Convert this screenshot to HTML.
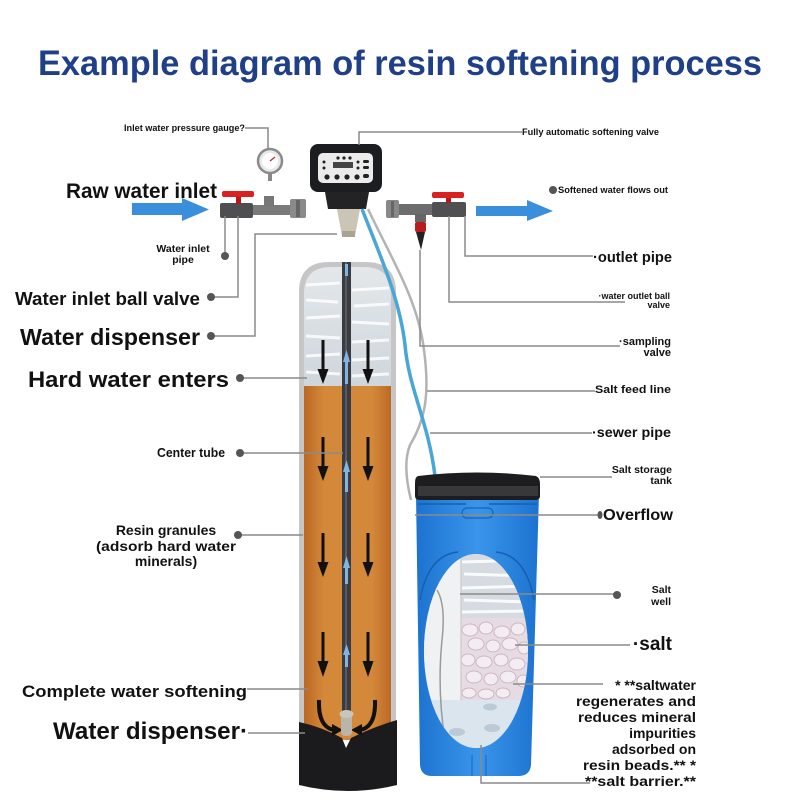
<!DOCTYPE html>
<html><head><meta charset="utf-8"><style>
html,body{margin:0;padding:0;background:#fff;}
svg{display:block;}
text{font-family:"Liberation Sans",sans-serif;font-weight:bold;fill:#111;}
</style></head><body>
<svg width="800" height="800" viewBox="0 0 800 800" xmlns="http://www.w3.org/2000/svg">
<defs>
<linearGradient id="resin" x1="0" x2="1" y1="0" y2="0">
 <stop offset="0" stop-color="#b5621f"/>
 <stop offset="0.25" stop-color="#d4883a"/>
 <stop offset="0.75" stop-color="#d4883a"/>
 <stop offset="1" stop-color="#b5621f"/>
</linearGradient>
<linearGradient id="water" x1="0" x2="0" y1="0" y2="1">
 <stop offset="0" stop-color="#e4e8eb"/>
 <stop offset="1" stop-color="#cfd6dc"/>
</linearGradient>
<linearGradient id="blueTank" x1="0" x2="1" y1="0" y2="0">
 <stop offset="0" stop-color="#1c73d0"/>
 <stop offset="0.5" stop-color="#3a95ea"/>
 <stop offset="1" stop-color="#1c73d0"/>
</linearGradient>
<clipPath id="tankIn"><path d="M304,740 L304,294 Q304,267 331,267 L364,267 Q391,267 391,294 L391,740 Z"/></clipPath>
<clipPath id="win"><ellipse cx="476" cy="651" rx="52" ry="97"/></clipPath>
</defs>

<!-- Title -->
<text x="38" y="75" font-size="35" textLength="724" lengthAdjust="spacingAndGlyphs" style="fill:#1f4088">Example diagram of resin softening process</text>

<!-- ===== MAIN TANK ===== -->
<path d="M299,740 L299,292 Q299,262 329,262 L366,262 Q396,262 396,292 L396,740 Z" fill="#c6c6c6"/>
<g clip-path="url(#tankIn)">
 <rect x="300" y="262" width="96" height="124" fill="url(#water)"/>
 <path d="M306,285 L340,283 M352,290 L389,288 M306,300 L338,302 M354,306 L389,304 M306,318 L340,316 M352,322 L389,324 M306,336 L340,338 M352,342 L389,340 M306,356 L340,354 M352,360 L389,358 M306,372 L340,374 M352,376 L389,374" stroke="#ffffff" stroke-width="3" opacity="0.8"/>
 <rect x="300" y="386" width="96" height="360" fill="url(#resin)"/>
</g>
<!-- base -->
<path d="M299,722 Q322,727 342,738 L346,748 L351,738 Q373,727 397,720 L397,785 Q348,797 299,785 Z" fill="#1b1b1d"/>
<!-- center tube -->
<rect x="342" y="262" width="9" height="455" fill="#3a3c41"/>
<rect x="345" y="262" width="2" height="455" fill="#565b63"/>
<!-- blue up arrows in tube -->
<g fill="#7fb5e5">
 <rect x="345" y="360" width="3" height="24"/><polygon points="343,362 350,362 346.5,350"/>
 <rect x="345" y="470" width="3" height="22"/><polygon points="343,472 350,472 346.5,460"/>
 <rect x="345" y="566" width="3" height="18"/><polygon points="343,568 350,568 346.5,556"/>
 <rect x="345" y="653" width="3" height="14"/><polygon points="343,655 350,655 346.5,644"/>
 <rect x="345" y="264" width="3" height="12"/>
</g>
<!-- black down arrows -->
<g fill="#111">
 <rect x="321.5" y="340" width="3" height="31"/><polygon points="317.5,369 328.5,369 323,384"/>
 <rect x="366.5" y="340" width="3" height="31"/><polygon points="362.5,369 373.5,369 368,384"/>
 <rect x="321.5" y="437" width="3" height="31"/><polygon points="317.5,466 328.5,466 323,481"/>
 <rect x="366.5" y="437" width="3" height="31"/><polygon points="362.5,466 373.5,466 368,481"/>
 <rect x="321.5" y="533" width="3" height="31"/><polygon points="317.5,562 328.5,562 323,577"/>
 <rect x="366.5" y="533" width="3" height="31"/><polygon points="362.5,562 373.5,562 368,577"/>
 <rect x="321.5" y="632" width="3" height="31"/><polygon points="317.5,661 328.5,661 323,677"/>
 <rect x="366.5" y="632" width="3" height="31"/><polygon points="362.5,661 373.5,661 368,677"/>
</g>
<path d="M319,700 Q318,727 334,730" stroke="#111" stroke-width="4" fill="none"/>
<polygon points="332,724 343,730 332,736" fill="#111"/>
<path d="M375,700 Q376,727 360,730" stroke="#111" stroke-width="4" fill="none"/>
<polygon points="362,724 351,730 362,736" fill="#111"/>
<!-- distributor -->
<rect x="341" y="712" width="11" height="24" rx="4" fill="#b9b5aa"/>
<ellipse cx="346.5" cy="714" rx="7" ry="4" fill="#c9c5ba"/>

<!-- ===== CONTROL VALVE ===== -->
<rect x="310" y="144" width="72" height="48" rx="8" fill="#1c1d20"/>
<rect x="318" y="153" width="55" height="30" rx="5" fill="#ebebec"/>
<g fill="#222">
 <circle cx="338" cy="158" r="1.6"/><circle cx="344" cy="158" r="1.6"/><circle cx="350" cy="158" r="1.6"/>
 <circle cx="324" cy="162" r="1.5"/><circle cx="324" cy="168" r="1.5"/>
 <circle cx="358" cy="162" r="1.5"/><circle cx="358" cy="168" r="1.5"/>
 <rect x="363" y="160" width="6" height="3" rx="1.5"/><rect x="363" y="166" width="6" height="3" rx="1.5"/>
 <rect x="333" y="162" width="20" height="6" fill="#444"/>
 <circle cx="327" cy="177" r="2.6"/><circle cx="337" cy="177" r="2.6"/><circle cx="347" cy="177" r="2.6"/><circle cx="357" cy="177" r="2.6"/>
 <rect x="363" y="174" width="6" height="4" rx="2"/>
</g>
<path d="M325,192 L369,192 L366,209 L328,209 Z" fill="#232325"/>
<polygon points="337,209 360,209 355,236 342,236" fill="#cbc5b6"/>
<rect x="342" y="231" width="13" height="6" fill="#a9a393"/>

<!-- gauge -->
<rect x="268" y="171" width="4" height="10" fill="#888"/>
<circle cx="270" cy="161" r="12" fill="#e8e8e8" stroke="#8a8a8a" stroke-width="2.5"/>
<circle cx="270" cy="161" r="8" fill="#fff"/>
<line x1="270" y1="161" x2="275" y2="157" stroke="#c02020" stroke-width="1.2"/>

<!-- inlet pipe -->
<rect x="253" y="205" width="38" height="10" fill="#7a7a7a"/>
<rect x="264" y="196" width="10" height="10" fill="#777"/>
<rect x="290" y="199" width="16" height="19" rx="2" fill="#8a8a8a"/>
<rect x="296" y="200" width="4" height="17" fill="#666"/>
<rect x="220" y="203" width="33" height="15" rx="2" fill="#4f4f52"/>
<rect x="236" y="196" width="5" height="8" fill="#b81818"/>
<rect x="222" y="191" width="32" height="6" rx="2" fill="#d82222"/>

<!-- outlet pipe -->
<rect x="386" y="200" width="13" height="18" rx="2" fill="#888"/>
<rect x="391" y="201" width="3" height="16" fill="#666"/>
<rect x="399" y="204" width="34" height="11" fill="#6d6d6d"/>
<rect x="432" y="202" width="34" height="15" rx="2" fill="#505053"/>
<rect x="446" y="196" width="5" height="7" fill="#b81818"/>
<rect x="432" y="192" width="32" height="6" rx="2" fill="#d82222"/>
<rect x="415" y="214" width="11" height="8" fill="#666"/>
<rect x="415" y="222" width="11" height="10" rx="2" fill="#b81c1c"/>
<polygon points="416,232 425,232 421,250" fill="#222"/>

<!-- hoses -->
<path d="M368,209 C392,260 418,300 424,350 C430,395 425,420 410,445 C404,460 406,480 411,500" stroke="#b3b3b3" stroke-width="2.5" fill="none"/>
<path d="M362,209 C380,255 400,300 405,345 C409,390 428,420 435,476" stroke="#49a6d6" stroke-width="3.5" fill="none"/>

<!-- blue arrows -->
<polygon points="132,203 182,203 182,198 209,209.5 182,221 182,215 132,215" fill="#3a8fdc"/>
<polygon points="476,206 527,206 527,200 553,211 527,221 527,216 476,216" fill="#3a8fdc"/>

<!-- ===== SALT TANK ===== -->
<path d="M416,494 L539,494 L531,765 Q530,776 518,776 L432,776 Q421,776 420,765 Z" fill="url(#blueTank)"/>
<path d="M418,476 Q477,469 536,476 Q540,478 540,484 L540,497 Q539,500 535,500 L420,500 Q415,500 415,496 L415,483 Q415,477 418,476 Z" fill="#1d1d1f"/>
<rect x="418" y="486" width="120" height="10" fill="#38383b"/>
<path d="M418,504 L466,504 M489,504 L537,504" stroke="#1560b0" stroke-width="1.5"/>
<rect x="462" y="508" width="31" height="10" rx="5" fill="none" stroke="#1764b8" stroke-width="1.3"/>
<path d="M420,600 Q428,555 458,552 M496,552 Q526,555 534,600" stroke="#175fb0" stroke-width="1.5" fill="none"/>
<path d="M472,755 L472,776 M486,755 L486,776" stroke="#1a66b8" stroke-width="1"/>
<g clip-path="url(#win)">
 <rect x="420" y="550" width="115" height="205" fill="#e6eaed"/>
 <rect x="420" y="550" width="42" height="205" fill="#f0f1f2"/>
 <rect x="461" y="550" width="70" height="70" fill="#d5dbe0"/>
 <path d="M462,562 L530,560 M464,574 L530,576 M462,588 L530,586 M464,600 L530,602 M462,612 L530,611" stroke="#fff" stroke-width="3" opacity="0.85"/>
 <rect x="461" y="618" width="70" height="84" fill="#e7dbe3"/>
 <g fill="#f3ecf0" stroke="#cdb6c5" stroke-width="1">
  <ellipse cx="470" cy="630" rx="8" ry="6"/><ellipse cx="486" cy="628" rx="7" ry="6"/><ellipse cx="502" cy="632" rx="8" ry="6"/><ellipse cx="518" cy="629" rx="7" ry="6"/>
  <ellipse cx="476" cy="644" rx="8" ry="6"/><ellipse cx="493" cy="646" rx="7" ry="6"/><ellipse cx="510" cy="644" rx="8" ry="6"/><ellipse cx="524" cy="648" rx="6" ry="6"/>
  <ellipse cx="468" cy="660" rx="7" ry="6"/><ellipse cx="484" cy="662" rx="8" ry="6"/><ellipse cx="501" cy="660" rx="7" ry="6"/><ellipse cx="517" cy="664" rx="8" ry="6"/>
  <ellipse cx="474" cy="677" rx="8" ry="6"/><ellipse cx="491" cy="679" rx="7" ry="6"/><ellipse cx="508" cy="677" rx="8" ry="6"/><ellipse cx="523" cy="681" rx="6" ry="6"/>
  <ellipse cx="469" cy="693" rx="7" ry="5"/><ellipse cx="486" cy="694" rx="8" ry="5"/><ellipse cx="503" cy="693" rx="7" ry="5"/>
 </g>
 <rect x="420" y="700" width="115" height="55" fill="#dbe5ee"/>
 <g fill="#bccad6">
  <ellipse cx="490" cy="707" rx="7" ry="3.5"/><ellipse cx="457" cy="732" rx="8" ry="4"/><ellipse cx="492" cy="728" rx="8" ry="4"/>
 </g>
 <line x1="461" y1="550" x2="461" y2="700" stroke="#d0d0d0" stroke-width="1.5"/>
 <path d="M437,590 Q446,605 442,640 Q437,690 445,740" stroke="#9a9a9a" stroke-width="1.5" fill="none"/>
</g>

<!-- ===== LEADER LINES ===== -->
<g stroke="#8a8a8a" stroke-width="1.5" fill="none">
 <path d="M245,128 L268,128 L268,149"/>
 <path d="M225,256 L225,216"/>
 <path d="M211,297 L238,297 L238,216"/>
 <path d="M211,336 L255,336 L255,234 L337,234"/>
 <path d="M240,378 L307,378"/>
 <path d="M240,453 L343,453"/>
 <path d="M238,535 L303,535"/>
 <path d="M247,689 L308,689"/>
 <path d="M248,733 L305,733"/>
 <path d="M359,145 L359,132 L522,132"/>
 <path d="M465,216 L465,256 L593,256"/>
 <path d="M449,216 L449,302 L625,302"/>
 <path d="M420,250 L420,346 L620,346"/>
 <path d="M427,391 L595,391"/>
 <path d="M430,433 L592,433"/>
 <path d="M540,477 L612,477"/>
 <path d="M415,515 L600,515"/>
 <path d="M460,594 L617,594"/>
 <path d="M515,645 L630,645"/>
 <path d="M513,684 L603,684"/>
 <path d="M481,745 L481,783 L590,783"/>
</g>
<g fill="#555">
 <circle cx="225" cy="256" r="4"/>
 <circle cx="211" cy="297" r="4"/>
 <circle cx="211" cy="336" r="4"/>
 <circle cx="240" cy="378" r="4"/>
 <circle cx="240" cy="453" r="4"/>
 <circle cx="238" cy="535" r="4"/>
 <circle cx="553" cy="190" r="4"/>
 <circle cx="617" cy="595" r="4"/>
 <ellipse cx="600" cy="515" rx="2.5" ry="4"/>
</g>

<!-- ===== LEFT LABELS ===== -->
<text x="124" y="131" font-size="9" textLength="121" lengthAdjust="spacingAndGlyphs">Inlet water pressure gauge?</text>
<text x="66" y="198" font-size="21" textLength="151" lengthAdjust="spacingAndGlyphs">Raw water inlet</text>
<text x="183" y="252" font-size="10.5" text-anchor="middle">Water inlet</text>
<text x="183" y="263" font-size="10.5" text-anchor="middle">pipe</text>
<text x="15" y="305" font-size="18.5" textLength="185" lengthAdjust="spacingAndGlyphs">Water inlet ball valve</text>
<text x="20" y="345" font-size="23" textLength="180" lengthAdjust="spacingAndGlyphs">Water dispenser</text>
<text x="28" y="387" font-size="22.5" textLength="201" lengthAdjust="spacingAndGlyphs">Hard water enters</text>
<text x="157" y="457" font-size="12.5" textLength="68" lengthAdjust="spacingAndGlyphs">Center tube</text>
<text x="166" y="535" font-size="14" text-anchor="middle">Resin granules</text>
<text x="166" y="551" font-size="14" text-anchor="middle" textLength="140" lengthAdjust="spacingAndGlyphs">(adsorb hard water</text>
<text x="166" y="566" font-size="14" text-anchor="middle">minerals)</text>
<text x="22" y="697" font-size="17" textLength="225" lengthAdjust="spacingAndGlyphs">Complete water softening</text>
<text x="53" y="739" font-size="24" textLength="195" lengthAdjust="spacingAndGlyphs">Water dispenser·</text>

<!-- ===== RIGHT LABELS ===== -->
<text x="522" y="135" font-size="9" textLength="137" lengthAdjust="spacingAndGlyphs">Fully automatic softening valve</text>
<text x="558" y="193" font-size="9.5" textLength="110" lengthAdjust="spacingAndGlyphs">Softened water flows out</text>
<text x="672" y="262" font-size="15" text-anchor="end" textLength="79" lengthAdjust="spacingAndGlyphs">·outlet pipe</text>
<text x="670" y="299" font-size="9" text-anchor="end">·water outlet ball</text>
<text x="670" y="308" font-size="9" text-anchor="end">valve</text>
<text x="671" y="345" font-size="11" text-anchor="end">·sampling</text>
<text x="671" y="356" font-size="11" text-anchor="end">valve</text>
<text x="671" y="393" font-size="11" text-anchor="end" textLength="76" lengthAdjust="spacingAndGlyphs">Salt feed line</text>
<text x="671" y="437" font-size="14" text-anchor="end" textLength="79" lengthAdjust="spacingAndGlyphs">·sewer pipe</text>
<text x="672" y="473" font-size="10.5" text-anchor="end">Salt storage</text>
<text x="672" y="484" font-size="10.5" text-anchor="end">tank</text>
<text x="673" y="520" font-size="16" text-anchor="end" textLength="70" lengthAdjust="spacingAndGlyphs">Overflow</text>
<text x="671" y="593" font-size="10.5" text-anchor="end">Salt</text>
<text x="671" y="605" font-size="10.5" text-anchor="end">well</text>
<text x="672" y="650" font-size="19" text-anchor="end">·salt</text>
<g font-size="14" text-anchor="end">
 <text x="696" y="690" text-anchor="end">* **saltwater</text>
 <text x="696" y="706" text-anchor="end" textLength="120" lengthAdjust="spacingAndGlyphs">regenerates and</text>
 <text x="696" y="722" text-anchor="end" textLength="118" lengthAdjust="spacingAndGlyphs">reduces mineral</text>
 <text x="696" y="738" text-anchor="end">impurities</text>
 <text x="696" y="754" text-anchor="end">adsorbed on</text>
 <text x="696" y="770" text-anchor="end" textLength="113" lengthAdjust="spacingAndGlyphs">resin beads.** *</text>
 <text x="696" y="786" text-anchor="end" textLength="111" lengthAdjust="spacingAndGlyphs">**salt barrier.**</text>
</g>
</svg>
</body></html>
